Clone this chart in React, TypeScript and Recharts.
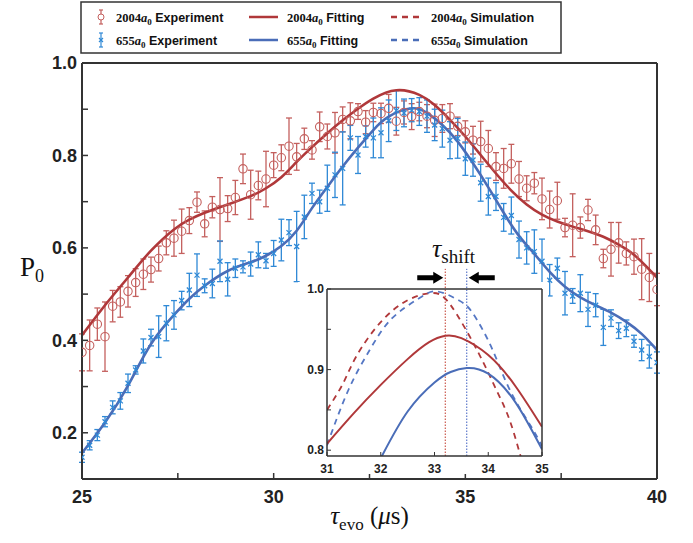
import React from "react";
import { ComposedChart, LineChart, Line, Scatter, ErrorBar, XAxis, YAxis, ReferenceLine, ReferenceDot } from "recharts";

// evolution time (us) of the measured points
const tEvo = [
  25.0, 25.2, 25.4, 25.6, 25.8, 26.0, 26.2, 26.4, 26.6, 26.8,
  27.0, 27.2, 27.4, 27.6, 27.8, 28.0, 28.2, 28.4, 28.6, 28.8,
  29.0, 29.2, 29.4, 29.6, 29.8, 30.0, 30.2, 30.4, 30.6, 30.8,
  31.0, 31.2, 31.4, 31.6, 31.8, 32.0, 32.2, 32.4, 32.6, 32.8,
  33.0, 33.2, 33.4, 33.6, 33.8, 34.0, 34.2, 34.4, 34.6, 34.8,
  35.0, 35.2, 35.4, 35.6, 35.8, 36.0, 36.2, 36.4, 36.6, 36.8,
  37.0, 37.2, 37.4, 37.6, 37.8, 38.0, 38.2, 38.4, 38.6, 38.8,
  39.0, 39.2, 39.4, 39.6, 39.8, 40.0,
];

// 2004 a0 experiment
const exp2004 = [
  0.374, 0.389, 0.435, 0.408, 0.474, 0.483, 0.506, 0.525, 0.543, 0.553,
  0.577, 0.611, 0.621, 0.636, 0.659, 0.699, 0.652, 0.688, 0.683, 0.685,
  0.709, 0.771, 0.715, 0.735, 0.749, 0.779, 0.795, 0.820, 0.797, 0.836,
  0.812, 0.862, 0.841, 0.849, 0.878, 0.875, 0.895, 0.872, 0.893, 0.891,
  0.902, 0.874, 0.893, 0.884, 0.895, 0.885, 0.876, 0.880, 0.885, 0.863,
  0.851, 0.833, 0.830, 0.815, 0.776, 0.772, 0.782, 0.749, 0.729, 0.740,
  0.706, 0.683, 0.702, 0.644, 0.649, 0.644, 0.682, 0.639, 0.577, 0.597,
  0.611, 0.588, 0.581, 0.554, 0.536, 0.510,
];
const err2004 = [
  0.040, 0.055, 0.035, 0.075, 0.034, 0.033, 0.034, 0.030, 0.033, 0.027,
  0.027, 0.026, 0.039, 0.048, 0.028, 0.022, 0.028, 0.023, 0.069, 0.028,
  0.037, 0.032, 0.053, 0.031, 0.060, 0.027, 0.028, 0.061, 0.029, 0.023,
  0.020, 0.032, 0.027, 0.044, 0.027, 0.039, 0.017, 0.025, 0.020, 0.022,
  0.030, 0.030, 0.025, 0.028, 0.020, 0.025, 0.035, 0.030, 0.027, 0.020,
  0.024, 0.030, 0.044, 0.039, 0.030, 0.043, 0.042, 0.038, 0.027, 0.023,
  0.045, 0.040, 0.040, 0.020, 0.068, 0.023, 0.023, 0.032, 0.020, 0.058,
  0.044, 0.025, 0.038, 0.066, 0.052, 0.035,
];

// 655 a0 experiment
const exp655 = [
  0.147, 0.173, 0.195, 0.224, 0.255, 0.269, 0.307, 0.336, 0.377, 0.406,
  0.408, 0.437, 0.455, 0.486, 0.509, 0.541, 0.518, 0.523, 0.571, 0.532,
  0.556, 0.559, 0.565, 0.585, 0.572, 0.588, 0.617, 0.633, 0.603, 0.667,
  0.718, 0.700, 0.729, 0.758, 0.772, 0.838, 0.801, 0.841, 0.838, 0.849,
  0.875, 0.897, 0.892, 0.898, 0.895, 0.885, 0.866, 0.858, 0.833, 0.837,
  0.793, 0.790, 0.741, 0.711, 0.711, 0.666, 0.670, 0.618, 0.600, 0.592,
  0.571, 0.530, 0.556, 0.502, 0.496, 0.502, 0.467, 0.476, 0.428, 0.448,
  0.421, 0.426, 0.398, 0.379, 0.365, 0.352,
];
const err655 = [
  0.011, 0.010, 0.012, 0.011, 0.014, 0.018, 0.020, 0.009, 0.026, 0.018,
  0.045, 0.038, 0.031, 0.020, 0.036, 0.046, 0.015, 0.031, 0.044, 0.036,
  0.020, 0.013, 0.026, 0.028, 0.016, 0.028, 0.045, 0.028, 0.076, 0.047,
  0.022, 0.025, 0.050, 0.049, 0.079, 0.027, 0.040, 0.023, 0.043, 0.054,
  0.045, 0.043, 0.030, 0.025, 0.030, 0.035, 0.034, 0.040, 0.040, 0.043,
  0.036, 0.035, 0.040, 0.040, 0.030, 0.030, 0.040, 0.040, 0.035, 0.047,
  0.048, 0.034, 0.022, 0.047, 0.016, 0.040, 0.037, 0.025, 0.039, 0.018,
  0.017, 0.018, 0.013, 0.023, 0.025, 0.023,
];

// fitting curves
const fitT2004 = [25.0, 25.6, 26.2, 26.8, 27.4, 27.8, 28.2, 28.8, 29.4, 29.8, 30.2, 30.6, 31.0, 31.4, 31.8, 32.2, 32.6, 33.2, 33.8, 34.2, 34.6, 35.0, 35.4, 35.8, 36.2, 36.6, 37.0, 37.4, 37.8, 38.2, 38.6, 39.0, 39.4, 39.8, 40.0];
const fit2004 = [0.411, 0.476, 0.536, 0.594, 0.640, 0.661, 0.676, 0.694, 0.712, 0.729, 0.753, 0.786, 0.818, 0.848, 0.876, 0.901, 0.923, 0.941, 0.931, 0.909, 0.877, 0.841, 0.801, 0.761, 0.724, 0.694, 0.672, 0.657, 0.646, 0.636, 0.624, 0.607, 0.585, 0.553, 0.536];
const fitT655 = [25.0, 25.6, 26.2, 26.8, 27.4, 27.8, 28.2, 28.8, 29.4, 29.8, 30.2, 30.6, 31.0, 31.4, 31.8, 32.2, 32.6, 33.0, 33.6, 34.0, 34.4, 34.8, 35.2, 35.6, 36.0, 36.4, 36.8, 37.2, 37.6, 38.0, 38.4, 38.8, 39.2, 39.6, 40.0];
const fit655 = [0.156, 0.222, 0.302, 0.392, 0.455, 0.490, 0.518, 0.550, 0.569, 0.583, 0.604, 0.637, 0.686, 0.732, 0.776, 0.817, 0.855, 0.884, 0.902, 0.892, 0.866, 0.830, 0.783, 0.731, 0.676, 0.626, 0.587, 0.548, 0.516, 0.493, 0.476, 0.460, 0.440, 0.414, 0.379];

// inset: fitting and simulation around the peak
const insFitT2004 = [31.0, 31.5, 32.0, 32.5, 32.9, 33.2, 33.5, 34.0, 34.5, 35.0];
const insFit2004 = [0.808, 0.846, 0.881, 0.913, 0.934, 0.942, 0.939, 0.918, 0.880, 0.829];
const insFitT655 = [32.0, 32.5, 33.0, 33.3, 33.6, 34.0, 34.5, 35.0];
const insFit655 = [0.790, 0.848, 0.884, 0.897, 0.902, 0.895, 0.860, 0.801];
const simT2004 = [31.0, 31.3, 31.55, 32.0, 32.5, 32.95, 33.3, 33.8, 34.15, 34.4, 34.6, 34.7];
const sim2004 = [0.850, 0.883, 0.917, 0.959, 0.986, 0.995, 0.980, 0.923, 0.875, 0.837, 0.793, 0.772];
const simT655 = [31.0, 31.4, 31.8, 32.2, 32.7, 33.05, 33.45, 33.7, 34.05, 34.4, 34.8, 35.0];
const sim655 = [0.806, 0.875, 0.925, 0.963, 0.988, 0.997, 0.986, 0.971, 0.929, 0.875, 0.829, 0.805];
const peak2004 = 33.2;
const peak655 = 33.6;

const xTicks = [25, 27.5, 30, 32.5, 35, 37.5, 40];
const yTicks = [0.1, 0.2, 0.3, 0.4, 0.5, 0.6, 0.7, 0.8, 0.9, 1.0];
const insXTicks = [31, 32, 33, 34, 35];
const insYTicks = [0.8, 0.85, 0.9, 0.95, 1.0];

const RED_FIT = "#b0383a";
const BLUE_FIT = "#4a6db8";
const RED_PT = "#c4605e";
const BLUE_PT = "#2f89d6";
const AXIS = "#333";
const SANS = "'Liberation Sans', Arial, sans-serif";
const SERIF = "'Liberation Serif', 'DejaVu Serif', serif";

const expRows = tEvo.map((t, i) => ({ t, r: exp2004[i], re: err2004[i], b: exp655[i], be: err655[i] }));
const rows = (ts: number[], vs: number[]) => ts.map((t, i) => ({ t, v: vs[i] }));

const Circle = (p: any) => <circle cx={p.cx} cy={p.cy} r={4.2} fill="none" stroke={RED_PT} strokeWidth={1.1} />;
const Cross = (p: any) => (
  <path d={`M${p.cx - 2.5},${p.cy - 2.5}L${p.cx + 2.5},${p.cy + 2.5}M${p.cx - 2.5},${p.cy + 2.5}L${p.cx + 2.5},${p.cy - 2.5}`} stroke={BLUE_PT} strokeWidth={1.3} />
);
const ArrowRight = (p: any) => (
  <path d={`M${p.cx - 2},${p.cy}l-10,-6v3.5h-16v5h16v3.5z`} fill="#000" />
);
const ArrowLeft = (p: any) => (
  <path d={`M${p.cx + 2},${p.cy}l10,-6v3.5h16v5h-16v3.5z`} fill="#000" />
);

const tickStyle = { fontFamily: SANS, fontWeight: 700, fontSize: 18, fill: "#222" };
const insTick = { fontFamily: SANS, fontWeight: 700, fontSize: 12, fill: "#222" };

const A0 = ({ n }: { n: string }) => (
  <>
    <tspan fontFamily={SERIF} fontWeight={700}>{n}</tspan>
    <tspan fontFamily={SERIF} fontStyle="italic">a</tspan>
    <tspan fontFamily={SERIF} fontSize={9} dy={3}>0</tspan>
  </>
);

const Legend = () => (
  <svg width={693} height={60} style={{ position: "absolute", left: 0, top: 0 }}>
    <rect x={81} y={2} width={480} height={51} fill="#fff" stroke={AXIS} strokeWidth={1.5} />
    {[
      { y: 17, n: "2004", c: RED_PT, lc: RED_FIT, mark: "o" },
      { y: 40, n: "655", c: BLUE_PT, lc: BLUE_FIT, mark: "x" },
    ].map((r) => (
      <g key={r.n} fontSize={12.5} fontFamily={SANS} fontWeight={700} fill="#111">
        <line x1={101} x2={101} y1={r.y - 7} y2={r.y + 7} stroke={r.c} strokeWidth={1.2} />
        <line x1={99} x2={103} y1={r.y - 7} y2={r.y - 7} stroke={r.c} strokeWidth={1.2} />
        <line x1={99} x2={103} y1={r.y + 7} y2={r.y + 7} stroke={r.c} strokeWidth={1.2} />
        {r.mark === "o" ? (
          <circle cx={101} cy={r.y} r={3} fill="#fff" stroke={r.c} strokeWidth={1} />
        ) : (
          <path d={`M99,${r.y - 2}L103,${r.y + 2}M99,${r.y + 2}L103,${r.y - 2}`} stroke={r.c} strokeWidth={1.2} />
        )}
        <text x={116} y={r.y + 5}><A0 n={r.n} /><tspan dy={-3}> Experiment</tspan></text>
        <line x1={249} x2={278} y1={r.y} y2={r.y} stroke={r.lc} strokeWidth={2.5} />
        <text x={287} y={r.y + 5}><A0 n={r.n} /><tspan dy={-3}> Fitting</tspan></text>
        <line x1={391} x2={420} y1={r.y} y2={r.y} stroke={r.lc} strokeWidth={2.5} strokeDasharray="6 5" />
        <text x={431} y={r.y + 5}><A0 n={r.n} /><tspan dy={-3}> Simulation</tspan></text>
      </g>
    ))}
  </svg>
);

const MainChart = () => (
  <ComposedChart width={693} height={543} margin={{ top: 53, right: 26, bottom: 34, left: 22 }}>
    <XAxis dataKey="t" type="number" domain={[25, 40]} ticks={xTicks} allowDataOverflow
      tickFormatter={(v: number) => (v % 5 === 0 ? String(v) : "")}
      height={30} tickSize={-6} tickMargin={17} tick={tickStyle}
      axisLine={{ stroke: AXIS, strokeWidth: 2 }} tickLine={{ stroke: AXIS, strokeWidth: 1.5 }} />
    <XAxis xAxisId="top" orientation="top" dataKey="t" type="number" domain={[25, 40]} ticks={xTicks} height={10}
      tick={false} tickSize={-6} axisLine={{ stroke: AXIS, strokeWidth: 2 }} tickLine={{ stroke: AXIS, strokeWidth: 1.5 }} />
    <YAxis type="number" domain={[0.1, 1.0]} ticks={yTicks} allowDataOverflow width={60}
      tickFormatter={(v: number) => (Math.round(v * 10) % 2 === 0 ? v.toFixed(1) : "")}
      tickSize={-6} tickMargin={11} tick={tickStyle}
      axisLine={{ stroke: AXIS, strokeWidth: 2 }} tickLine={{ stroke: AXIS, strokeWidth: 1.5 }} />
    <YAxis yAxisId="right" orientation="right" type="number" domain={[0.1, 1.0]} ticks={yTicks} width={10}
      tick={false} tickSize={-6} axisLine={{ stroke: AXIS, strokeWidth: 2 }} tickLine={{ stroke: AXIS, strokeWidth: 1.5 }} />
    <Scatter data={expRows} dataKey="r" shape={Circle} isAnimationActive={false}>
      <ErrorBar dataKey="re" direction="y" width={3} stroke={RED_PT} strokeWidth={1.3} />
    </Scatter>
    <Scatter data={expRows} dataKey="b" shape={Cross} isAnimationActive={false}>
      <ErrorBar dataKey="be" direction="y" width={3} stroke={BLUE_PT} strokeWidth={1.3} />
    </Scatter>
    <Line data={rows(fitT2004, fit2004)} dataKey="v" type="natural" stroke={RED_FIT} strokeWidth={2.6} dot={false} isAnimationActive={false} />
    <Line data={rows(fitT655, fit655)} dataKey="v" type="natural" stroke={BLUE_FIT} strokeWidth={2.6} dot={false} isAnimationActive={false} />
  </ComposedChart>
);

const InsetChart = () => (
  <LineChart width={265} height={230} margin={{ top: 38, right: 11, bottom: 5, left: 7 }}>
    <XAxis dataKey="t" type="number" domain={[31, 35]} ticks={insXTicks} allowDataOverflow height={18}
      tickSize={-4} tickMargin={12} tick={insTick}
      axisLine={{ stroke: AXIS, strokeWidth: 1.5 }} tickLine={{ stroke: AXIS, strokeWidth: 1 }} />
    <XAxis xAxisId="top" orientation="top" dataKey="t" type="number" domain={[31, 35]} ticks={insXTicks} height={2}
      tick={false} tickSize={-4} axisLine={{ stroke: AXIS, strokeWidth: 1.5 }} tickLine={{ stroke: AXIS, strokeWidth: 1 }} />
    <YAxis type="number" domain={[0.7928, 1.0]} ticks={insYTicks} allowDataOverflow width={30}
      tickFormatter={(v: number) => (Math.round(v * 100) % 10 === 0 ? v.toFixed(1) : "")}
      tickSize={-4} tickMargin={7} tick={insTick}
      axisLine={{ stroke: AXIS, strokeWidth: 1.5 }} tickLine={{ stroke: AXIS, strokeWidth: 1 }} />
    <YAxis yAxisId="right" orientation="right" type="number" domain={[0.7928, 1.0]} ticks={insYTicks} width={2}
      tick={false} tickSize={-4} axisLine={{ stroke: AXIS, strokeWidth: 1.5 }} tickLine={{ stroke: AXIS, strokeWidth: 1 }} />
    <ReferenceLine segment={[{ x: peak2004, y: 0.7928 }, { x: peak2004, y: 1.025 }]} ifOverflow="visible" stroke="#c0392b" strokeWidth={1} strokeDasharray="1.5 1.5" />
    <ReferenceLine segment={[{ x: peak655, y: 0.7928 }, { x: peak655, y: 1.025 }]} ifOverflow="visible" stroke="#3f5fc0" strokeWidth={1} strokeDasharray="1.5 1.5" />
    <ReferenceDot x={peak2004} y={1.014} ifOverflow="visible" shape={ArrowRight} />
    <ReferenceDot x={peak655} y={1.014} ifOverflow="visible" shape={ArrowLeft} />
    <Line data={rows(simT2004, sim2004)} dataKey="v" type="natural" stroke={RED_FIT} strokeWidth={1.8} strokeDasharray="6 5" dot={false} isAnimationActive={false} />
    <Line data={rows(simT655, sim655)} dataKey="v" type="natural" stroke="#5577c4" strokeWidth={1.8} strokeDasharray="6 5" dot={false} isAnimationActive={false} />
    <Line data={rows(insFitT2004, insFit2004)} dataKey="v" type="natural" stroke={RED_FIT} strokeWidth={2} dot={false} isAnimationActive={false} />
    <Line data={rows(insFitT655, insFit655)} dataKey="v" type="natural" stroke={BLUE_FIT} strokeWidth={2} dot={false} isAnimationActive={false} />
  </LineChart>
);

export default function App() {
  return (
    <div style={{ position: "absolute", left: 0, top: 0, width: 693, height: 543, background: "#fff", overflow: "hidden" }}>
      <MainChart />
      <Legend />
      <div style={{ position: "absolute", left: 298, top: 282, width: 250, height: 192, background: "#fff" }} />
      <div style={{ position: "absolute", left: 290, top: 249 }}>
        <InsetChart />
      </div>
      <div style={{ position: "absolute", left: 432, top: 234, fontFamily: SERIF, fontSize: 26, color: "#111", whiteSpace: "nowrap" }}>
        <i>τ</i><sub style={{ fontSize: 19 }}>shift</sub>
      </div>
      <div style={{ position: "absolute", left: 20, top: 252, fontFamily: SERIF, fontSize: 27, color: "#111" }}>
        P<sub style={{ fontSize: 18 }}>0</sub>
      </div>
      <div style={{ position: "absolute", left: 82, width: 575, top: 502, textAlign: "center", fontFamily: SERIF, fontSize: 25, color: "#111", whiteSpace: "nowrap" }}>
        <i>τ</i><sub style={{ fontSize: 17 }}>evo</sub> (<i>μ</i>s)
      </div>
    </div>
  );
}
